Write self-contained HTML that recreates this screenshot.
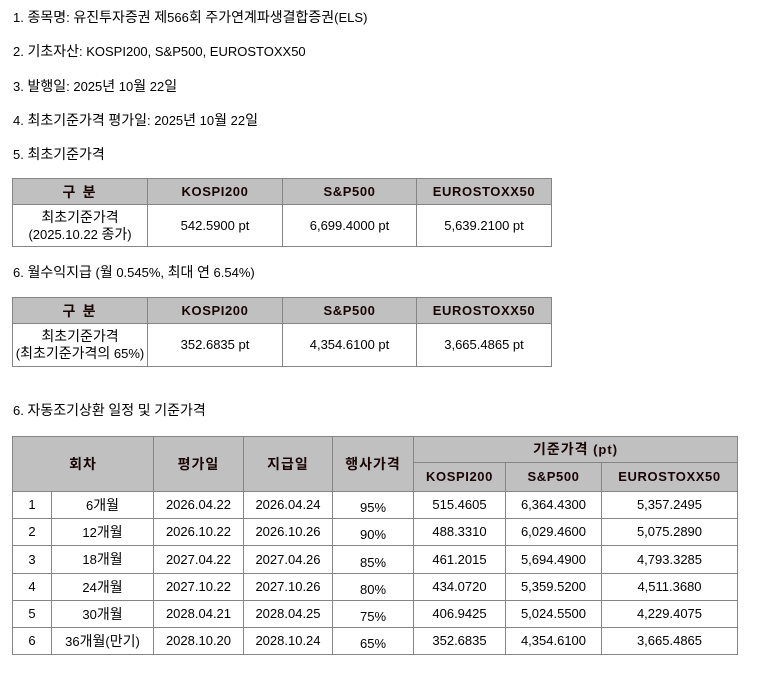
<!DOCTYPE html>
<html><head><meta charset="utf-8">
<style>
html,body{margin:0;padding:0;background:#fff;}
body{width:757px;height:674px;overflow:hidden;position:relative;font-family:"Liberation Sans","Noto Sans CJK KR",sans-serif;font-size:13px;color:#000;}
.t{position:absolute;left:13px;line-height:16px;white-space:nowrap;}
.c{position:absolute;box-sizing:border-box;border:1px solid #858585;display:flex;align-items:center;justify-content:center;text-align:center;line-height:16px;white-space:nowrap;background:#fff;}
.h{background:#c0c0c0;font-weight:bold;color:#1a0505;letter-spacing:0.6px;}
.p{padding-top:6px;}
.k{font-family:"Noto Sans CJK KR","Liberation Sans",sans-serif;font-size:14px;}
</style></head><body>
<div class="t" style="top:9px">1. <span class="k">종목명</span>: <span class="k">유진투자증권</span> <span class="k">제</span>566<span class="k">회</span> <span class="k">주가연계파생결합증권</span>(ELS)</div>
<div class="t" style="top:43px">2. <span class="k">기초자산</span>: KOSPI200, S&amp;P500, EUROSTOXX50</div>
<div class="t" style="top:78px">3. <span class="k">발행일</span>: 2025<span class="k">년</span> 10<span class="k">월</span> 22<span class="k">일</span></div>
<div class="t" style="top:112px">4. <span class="k">최초기준가격</span> <span class="k">평가일</span>: 2025<span class="k">년</span> 10<span class="k">월</span> 22<span class="k">일</span></div>
<div class="t" style="top:146px">5. <span class="k">최초기준가격</span></div>

<!-- table 1 -->
<div class="c h" style="left:12px;top:178px;width:136px;height:27px;letter-spacing:2px"><span class="k">구 분</span></div>
<div class="c h" style="left:147px;top:178px;width:136px;height:27px">KOSPI200</div>
<div class="c h" style="left:282px;top:178px;width:135px;height:27px">S&amp;P500</div>
<div class="c h" style="left:416px;top:178px;width:136px;height:27px">EUROSTOXX50</div>
<div class="c" style="left:12px;top:204px;width:136px;height:43px"><span><span class="k">최초기준가격</span><br>(2025.10.22 <span class="k">종가</span>)</span></div>
<div class="c" style="left:147px;top:204px;width:136px;height:43px">542.5900 pt</div>
<div class="c" style="left:282px;top:204px;width:135px;height:43px">6,699.4000 pt</div>
<div class="c" style="left:416px;top:204px;width:136px;height:43px">5,639.2100 pt</div>

<div class="t" style="top:264px">6. <span class="k">월수익지급</span> (<span class="k">월</span> 0.545%, <span class="k">최대</span> <span class="k">연</span> 6.54%)</div>

<!-- table 2 -->
<div class="c h" style="left:12px;top:297px;width:136px;height:27px;letter-spacing:2px"><span class="k">구 분</span></div>
<div class="c h" style="left:147px;top:297px;width:136px;height:27px">KOSPI200</div>
<div class="c h" style="left:282px;top:297px;width:135px;height:27px">S&amp;P500</div>
<div class="c h" style="left:416px;top:297px;width:136px;height:27px">EUROSTOXX50</div>
<div class="c" style="left:12px;top:323px;width:136px;height:44px"><span><span class="k">최초기준가격</span><br>(<span class="k">최초기준가격의</span> 65%)</span></div>
<div class="c" style="left:147px;top:323px;width:136px;height:44px">352.6835 pt</div>
<div class="c" style="left:282px;top:323px;width:135px;height:44px">4,354.6100 pt</div>
<div class="c" style="left:416px;top:323px;width:136px;height:44px">3,665.4865 pt</div>

<div class="t" style="top:402px">6. <span class="k">자동조기상환</span> <span class="k">일정</span> <span class="k">및</span> <span class="k">기준가격</span></div>

<!-- table 3 header -->
<div class="c h" style="left:12px;top:436px;width:142px;height:56px;letter-spacing:1px"><span class="k">회차</span></div>
<div class="c h" style="left:153px;top:436px;width:91px;height:56px;letter-spacing:1px"><span class="k">평가일</span></div>
<div class="c h" style="left:243px;top:436px;width:90px;height:56px;letter-spacing:1px"><span class="k">지급일</span></div>
<div class="c h" style="left:332px;top:436px;width:82px;height:56px;letter-spacing:1px"><span class="k">행사가격</span></div>
<div class="c h" style="left:413px;top:436px;width:325px;height:27px;letter-spacing:1px"><span><span class="k">기준가격</span> (pt)</span></div>
<div class="c h" style="left:413px;top:462px;width:93px;height:30px">KOSPI200</div>
<div class="c h" style="left:505px;top:462px;width:97px;height:30px">S&amp;P500</div>
<div class="c h" style="left:601px;top:462px;width:137px;height:30px">EUROSTOXX50</div>

<!-- rows -->
<div class="c" style="left:12px;top:491px;width:40px;height:28px">1</div>
<div class="c" style="left:51px;top:491px;width:103px;height:28px"><span>6<span class="k">개월</span></span></div>
<div class="c" style="left:153px;top:491px;width:91px;height:28px">2026.04.22</div>
<div class="c" style="left:243px;top:491px;width:90px;height:28px">2026.04.24</div>
<div class="c p" style="left:332px;top:491px;width:82px;height:28px">95%</div>
<div class="c" style="left:413px;top:491px;width:93px;height:28px">515.4605</div>
<div class="c" style="left:505px;top:491px;width:97px;height:28px">6,364.4300</div>
<div class="c" style="left:601px;top:491px;width:137px;height:28px">5,357.2495</div>

<div class="c" style="left:12px;top:518px;width:40px;height:28px">2</div>
<div class="c" style="left:51px;top:518px;width:103px;height:28px"><span>12<span class="k">개월</span></span></div>
<div class="c" style="left:153px;top:518px;width:91px;height:28px">2026.10.22</div>
<div class="c" style="left:243px;top:518px;width:90px;height:28px">2026.10.26</div>
<div class="c p" style="left:332px;top:518px;width:82px;height:28px">90%</div>
<div class="c" style="left:413px;top:518px;width:93px;height:28px">488.3310</div>
<div class="c" style="left:505px;top:518px;width:97px;height:28px">6,029.4600</div>
<div class="c" style="left:601px;top:518px;width:137px;height:28px">5,075.2890</div>

<div class="c" style="left:12px;top:545px;width:40px;height:29px">3</div>
<div class="c" style="left:51px;top:545px;width:103px;height:29px"><span>18<span class="k">개월</span></span></div>
<div class="c" style="left:153px;top:545px;width:91px;height:29px">2027.04.22</div>
<div class="c" style="left:243px;top:545px;width:90px;height:29px">2027.04.26</div>
<div class="c p" style="left:332px;top:545px;width:82px;height:29px">85%</div>
<div class="c" style="left:413px;top:545px;width:93px;height:29px">461.2015</div>
<div class="c" style="left:505px;top:545px;width:97px;height:29px">5,694.4900</div>
<div class="c" style="left:601px;top:545px;width:137px;height:29px">4,793.3285</div>

<div class="c" style="left:12px;top:573px;width:40px;height:28px">4</div>
<div class="c" style="left:51px;top:573px;width:103px;height:28px"><span>24<span class="k">개월</span></span></div>
<div class="c" style="left:153px;top:573px;width:91px;height:28px">2027.10.22</div>
<div class="c" style="left:243px;top:573px;width:90px;height:28px">2027.10.26</div>
<div class="c p" style="left:332px;top:573px;width:82px;height:28px">80%</div>
<div class="c" style="left:413px;top:573px;width:93px;height:28px">434.0720</div>
<div class="c" style="left:505px;top:573px;width:97px;height:28px">5,359.5200</div>
<div class="c" style="left:601px;top:573px;width:137px;height:28px">4,511.3680</div>

<div class="c" style="left:12px;top:600px;width:40px;height:28px">5</div>
<div class="c" style="left:51px;top:600px;width:103px;height:28px"><span>30<span class="k">개월</span></span></div>
<div class="c" style="left:153px;top:600px;width:91px;height:28px">2028.04.21</div>
<div class="c" style="left:243px;top:600px;width:90px;height:28px">2028.04.25</div>
<div class="c p" style="left:332px;top:600px;width:82px;height:28px">75%</div>
<div class="c" style="left:413px;top:600px;width:93px;height:28px">406.9425</div>
<div class="c" style="left:505px;top:600px;width:97px;height:28px">5,024.5500</div>
<div class="c" style="left:601px;top:600px;width:137px;height:28px">4,229.4075</div>

<div class="c" style="left:12px;top:627px;width:40px;height:28px">6</div>
<div class="c" style="left:51px;top:627px;width:103px;height:28px"><span>36<span class="k">개월</span>(<span class="k">만기</span>)</span></div>
<div class="c" style="left:153px;top:627px;width:91px;height:28px">2028.10.20</div>
<div class="c" style="left:243px;top:627px;width:90px;height:28px">2028.10.24</div>
<div class="c p" style="left:332px;top:627px;width:82px;height:28px">65%</div>
<div class="c" style="left:413px;top:627px;width:93px;height:28px">352.6835</div>
<div class="c" style="left:505px;top:627px;width:97px;height:28px">4,354.6100</div>
<div class="c" style="left:601px;top:627px;width:137px;height:28px">3,665.4865</div>
</body></html>
